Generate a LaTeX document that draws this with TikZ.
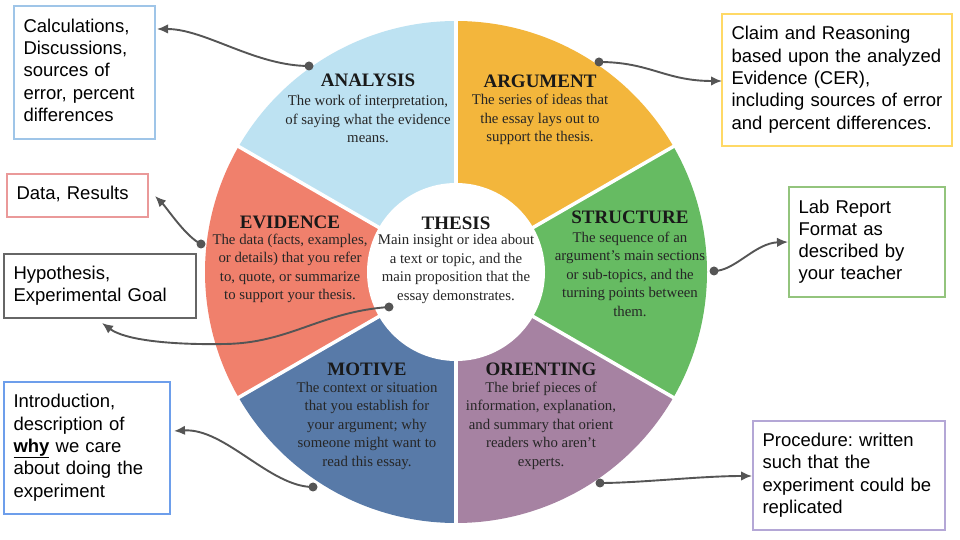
\documentclass[tikz,border=0pt]{standalone}
\usepackage{fontspec}
\setmainfont{Liberation Serif}
\newfontfamily\boxfont{Liberation Sans}
\usetikzlibrary{arrows.meta}
\frenchspacing
\definecolor{cAna}{HTML}{BDE2F2}
\definecolor{cArg}{HTML}{F3B63C}
\definecolor{cStr}{HTML}{66BB62}
\definecolor{cOri}{HTML}{A682A2}
\definecolor{cMot}{HTML}{587AA8}
\definecolor{cEvi}{HTML}{F0806C}
\definecolor{cLine}{HTML}{555555}
\definecolor{bAna}{HTML}{9FC5E8}
\definecolor{bEvi}{HTML}{EA9999}
\definecolor{bHyp}{HTML}{666666}
\definecolor{bMot}{HTML}{6D9EEB}
\definecolor{bArg}{HTML}{FFD966}
\definecolor{bStr}{HTML}{93C47D}
\definecolor{bOri}{HTML}{B4A7D6}
\tikzset{
  sectitle/.style={font=\fontsize{19}{22}\selectfont\bfseries, text=black!90, inner sep=0pt},
  secbody/.style={font=\fontsize{14.8}{18.5}\selectfont, text=black!85, align=center, inner sep=0pt},
  infobox/.style={draw, line width=1.5pt, inner xsep=9.5pt, inner ysep=0pt, font=\boxfont\fontsize{18.5}{22.3}\selectfont, align=left, text=black},
  pindot/.style={circle, fill=cLine, inner sep=0pt, minimum size=9pt},
  conn/.style={draw=cLine, line width=1.9pt, -{Latex[length=11pt,width=9.5pt]}}
}
\begin{document}
\begin{tikzpicture}[x=1pt,y=1pt]
\useasboundingbox (0,0) rectangle (960,540);
\fill[white] (0,0) rectangle (960,540);
% wheel
\begin{scope}[shift={(456,268)}]
  \fill[cAna] (0,0) -- (90:251) arc[start angle=90,end angle=150,radius=251] -- cycle;
  \fill[cEvi] (0,0) -- (150:251) arc[start angle=150,end angle=210,radius=251] -- cycle;
  \fill[cMot] (0,0) -- (210:251) arc[start angle=210,end angle=270,radius=251] -- cycle;
  \fill[cOri] (0,0) -- (270:251) arc[start angle=270,end angle=330,radius=251] -- cycle;
  \fill[cStr] (0,0) -- (-30:251) arc[start angle=-30,end angle=30,radius=251] -- cycle;
  \fill[cArg] (0,0) -- (30:251) arc[start angle=30,end angle=90,radius=251] -- cycle;
  \foreach \a in {30,90,150,210,270,330} \draw[white,line width=3.5pt] (0,0) -- (\a:253);
  \fill[white] (0,0) circle[radius=89];
\end{scope}
% sector texts
\node[sectitle] (anaT) at (368,460) {ANALYSIS};
\node[secbody] (anaB) at (368,421) {The work of interpretation,\\of saying what the evidence\\means.};
\node[sectitle] (argT) at (540,459) {ARGUMENT};
\node[secbody] (argB) at (540,420.5) {The series of ideas that\\the essay lays out to\\support the thesis.};
\node[sectitle] (eviT) at (290,318) {EVIDENCE};
\node[secbody] (eviB) at (290,271.5) {The data (facts, examples,\\or details) that you refer\\to, quote, or summarize\\to support your thesis.};
\node[sectitle] (theT) at (456,317) {THESIS};
\node[secbody] (theB) at (456,271) {Main insight or idea about\\a text or topic, and the\\main proposition that the\\essay demonstrates.};
\node[sectitle] (strT) at (630,323) {STRUCTURE};
\node[secbody] (strB) at (630,266) {The sequence of an\\argument’s main sections\\or sub-topics, and the\\turning points between\\them.};
\node[sectitle] (motT) at (367,171) {MOTIVE};
\node[secbody] (motB) at (367,114.5) {The context or situation\\that you establish for\\your argument; why\\someone might want to\\read this essay.};
\node[sectitle] (oriT) at (541,171) {ORIENTING};
\node[secbody] (oriB) at (541,114.5) {The brief pieces of\\information, explanation,\\and summary that orient\\readers who aren’t\\experts.};
% boxes
\node[infobox, draw=bAna, text width=122pt, minimum height=133pt] (boxA) at (84.5,467.5)
  {\begin{tabular}{@{}l@{}}Calculations,\\Discussions,\\sources of\\error, percent\\differences\end{tabular}};
\node[infobox, draw=bEvi, text width=122pt, minimum height=43pt] (boxE) at (77.5,344.5)
  {\begin{tabular}{@{}l@{}}Data, Results\end{tabular}};
\node[infobox, draw=bHyp, text width=173pt, minimum height=64pt] (boxH) at (100,254)
  {\begin{tabular}{@{}l@{}}Hypothesis,\\Experimental Goal\end{tabular}};
\node[infobox, draw=bMot, text width=147pt, minimum height=132pt] (boxM) at (87,92)
  {\begin{tabular}{@{}l@{}}Introduction,\\description of\\\underline{\textbf{why}} we care\\about doing the\\experiment\end{tabular}};
\node[infobox, draw=bArg, text width=211pt, minimum height=132pt] (boxR) at (837,460)
  {\begin{tabular}{@{}l@{}}Claim and Reasoning\\based upon the analyzed\\Evidence (CER),\\including sources of error\\and percent differences.\end{tabular}};
\node[infobox, draw=bStr, text width=137pt, minimum height=110pt] (boxS) at (867,298)
  {\begin{tabular}{@{}l@{}}Lab Report\\Format as\\described by\\your teacher\end{tabular}};
\node[infobox, draw=bOri, text width=173pt, minimum height=109pt] (boxO) at (849,64.5)
  {\begin{tabular}{@{}l@{}}Procedure: written\\such that the\\experiment could be\\replicated\end{tabular}};
% connector ends
\node[pindot] (dA) at (309,474) {};
\node[pindot] (dR) at (599,478) {};
\node[pindot] (dE) at (201,296) {};
\node[pindot] (dH) at (389,233) {};
\node[pindot] (dM) at (313,53) {};
\node[pindot] (dS) at (714,269) {};
\node[pindot] (dO) at (600,57) {};
\coordinate (tA) at (157,511);
\coordinate (tR) at (722,459);
\coordinate (tE) at (155,344);
\coordinate (tH) at (102,217);
\coordinate (tM) at (174,109);
\coordinate (tS) at (788,298);
\coordinate (tO) at (752,64);
% connectors
\draw[conn] (dA.center) .. controls (255,474) and (205,511) .. (tA);
\draw[conn] (dR.center) .. controls (650,478) and (665,459) .. (tR);
\draw[conn] (dE.center) .. controls (186,303) and (167,332) .. (tE);
\draw[conn] (dH.center) .. controls (320,228) and (290,197) .. (225,196) .. controls (170,195) and (125,200) .. (tH);
\draw[conn] (dM.center) .. controls (270,53) and (225,112) .. (tM);
\draw[conn] (dS.center) .. controls (735,269) and (755,297) .. (tS);
\draw[conn] (dO.center) .. controls (640,57) and (700,64) .. (tO);
\end{tikzpicture}
\end{document}
